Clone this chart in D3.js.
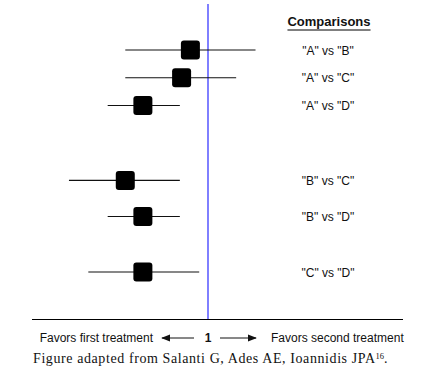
<!DOCTYPE html>
<html><head><meta charset="utf-8">
<script src="https://cdn.jsdelivr.net/npm/d3@7"></script>
<style>body{margin:0;background:#fff}svg{display:block}</style>
</head><body>
<script>
// Data (log ratio scale, 0 = null "1")
const comparisons = ['"A" vs "B"', '"A" vs "C"', '"A" vs "D"', '"B" vs "C"', '"B" vs "D"', '"C" vs "D"'];
const rowSlot = [0, 1, 2, 4.7, 6, 8];
const estimate = [-0.10, -0.15, -0.37, -0.47, -0.37, -0.37];
const lower = [-0.47, -0.47, -0.57, -0.79, -0.57, -0.68];
const upper = [0.27, 0.16, -0.16, -0.16, -0.16, -0.05];
const nullValue = 0;
const nullLabel = "1";
const leftLabel = "Favors first treatment";
const rightLabel = "Favors second treatment";
const header = "Comparisons";
const caption = "Figure adapted from Salanti G, Ades AE, Ioannidis JPA";
const captionSup = "16";

const W = 437, H = 382;
const svg = d3.select("body").append("svg").attr("width", W).attr("height", H);

const x = d3.scaleLinear().domain([-1, 1]).range([32, 384]);
const y = d3.scaleLinear().domain([0, 8]).range([50, 272]);

// null line
svg.append("line").attr("x1", x(nullValue)).attr("x2", x(nullValue))
  .attr("y1", 4).attr("y2", 319).attr("stroke", "#2b2bff").attr("stroke-width", 1.2);

// axis baseline
svg.append("line").attr("x1", 32).attr("x2", 403).attr("y1", 319.5).attr("y2", 319.5)
  .attr("stroke", "#000").attr("stroke-width", 1);

const rows = comparisons.map((c, i) => ({c, slot: rowSlot[i], est: estimate[i], lo: lower[i], hi: upper[i]}));

svg.selectAll("line.ci").data(rows).join("line").attr("class", "ci")
  .attr("x1", d => x(d.lo)).attr("x2", d => x(d.hi))
  .attr("y1", d => y(d.slot)).attr("y2", d => y(d.slot))
  .attr("stroke", "#111").attr("stroke-width", 1.2);

const sq = 19;
svg.selectAll("rect.est").data(rows).join("rect").attr("class", "est")
  .attr("x", d => x(d.est) - sq / 2).attr("y", d => y(d.slot) - sq / 2)
  .attr("width", sq).attr("height", sq).attr("rx", 3).attr("fill", "#000");

const ff = "Liberation Sans, Arial, sans-serif";
const labX = 328;
svg.selectAll("text.lab").data(rows).join("text").attr("class", "lab")
  .attr("x", labX).attr("y", d => y(d.slot) + 4.5)
  .attr("text-anchor", "middle").attr("font-family", ff)
  .attr("font-size", 12).attr("fill", "#111").text(d => d.c);

// header
const h = svg.append("text").attr("x", 329).attr("y", 26).attr("text-anchor", "middle")
  .attr("font-family", ff).attr("font-size", 13)
  .attr("font-weight", "bold").attr("fill", "#111").text(header);
const hb = h.node().getBBox();
svg.append("line").attr("x1", hb.x).attr("x2", hb.x + hb.width).attr("y1", 30).attr("y2", 30)
  .attr("stroke", "#555").attr("stroke-width", 1.6);

// bottom labels
const fy = 342;
svg.append("text").attr("x", 153).attr("y", fy).attr("text-anchor", "end")
  .attr("font-family", ff).attr("font-size", 12).attr("fill", "#111").text(leftLabel);
svg.append("text").attr("x", 271).attr("y", fy).attr("text-anchor", "start")
  .attr("font-family", ff).attr("font-size", 12).attr("fill", "#111").text(rightLabel);
svg.append("text").attr("x", x(nullValue)).attr("y", fy).attr("text-anchor", "middle")
  .attr("font-family", ff).attr("font-size", 12).attr("font-weight", "bold").attr("fill", "#111").text(nullLabel);

const defs = svg.append("defs");
defs.append("marker").attr("id", "ah").attr("viewBox", "0 0 10 10").attr("refX", 9).attr("refY", 5)
  .attr("markerWidth", 9).attr("markerHeight", 9).attr("markerUnits", "userSpaceOnUse").attr("orient", "auto")
  .append("path").attr("d", "M0,1 L10,5 L0,9 Z").attr("fill", "#111");
const ay = fy - 4;
svg.append("line").attr("x1", 194).attr("x2", 162).attr("y1", ay).attr("y2", ay)
  .attr("stroke", "#111").attr("stroke-width", 1).attr("marker-end", "url(#ah)");
svg.append("line").attr("x1", 220).attr("x2", 256).attr("y1", ay).attr("y2", ay)
  .attr("stroke", "#111").attr("stroke-width", 1).attr("marker-end", "url(#ah)");

// caption
const cap = svg.append("text").attr("x", 33).attr("y", 363)
  .attr("font-family", "Liberation Serif, Times New Roman, serif").attr("font-size", 14).attr("fill", "#111");
cap.append("tspan").attr("textLength", 342).attr("lengthAdjust", "spacing").text(caption);
cap.append("tspan").attr("font-size", 8.5).attr("dy", -4.5).text(captionSup);
cap.append("tspan").attr("dy", 4.5).text(".");
</script>
</body></html>
